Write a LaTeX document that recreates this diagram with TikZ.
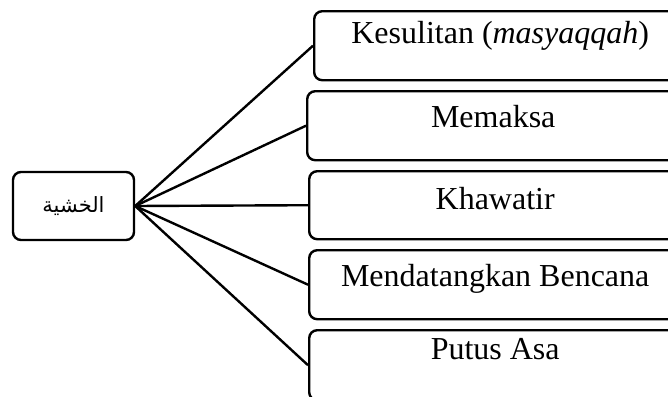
\documentclass[tikz,border=0pt]{standalone}
\usepackage{fontspec}
\setmainfont{Liberation Serif}
\newfontfamily\arabicfont[Script=Arabic]{DejaVu Sans}
\TeXXeTstate=1

\tikzset{
    rootbox/.style={draw, rounded corners=4pt, line width=1.2pt, inner sep=0pt,
        minimum width=60.5pt, minimum height=34pt,
        font=\arabicfont\fontsize{10.5}{12}\selectfont},
    leafbox/.style={draw, rounded corners=4pt, line width=1.2pt, inner sep=0pt,
        anchor=north west, minimum width=186pt,
        text height=18pt, text depth=16.5pt,
        font=\fontsize{16}{19}\selectfont},
    link/.style={line width=1.2pt}
}

\begin{document}
\begin{tikzpicture}[x=0.5pt, y=-0.5pt]

    % Page has the size of the reference, the boxes run off its right side
    \useasboundingbox (0,0) rectangle (668,396);
    \clip (0,0) rectangle (668,396);

    % 0
    \node[rootbox] (0) at (73.5, 206) {\beginR الخشية\endR};

    % 1 - 5
    \node[leafbox, text height=16pt, text depth=18.5pt] (1) at (313, 10) {Kesulitan (\textit{masyaqqah})};
    \node[leafbox] (2) at (306, 90) {Memaksa};
    \node[leafbox, text height=19pt, text depth=15pt] (3) at (308, 170) {Khawatir};
    \node[leafbox] (4) at (308, 249) {Mendatangkan Bencana};
    \node[leafbox, text height=14.5pt, text depth=20.5pt] (5) at (308, 329) {Putus Asa};

    \draw[link] (0.east) -- (1.west);
    \draw[link] (0.east) -- (2.west);
    \draw[link] (0.east) -- (3.west);
    \draw[link] (0.east) -- (4.west);
    \draw[link] (0.east) -- (5.west);

\end{tikzpicture}
\end{document}
